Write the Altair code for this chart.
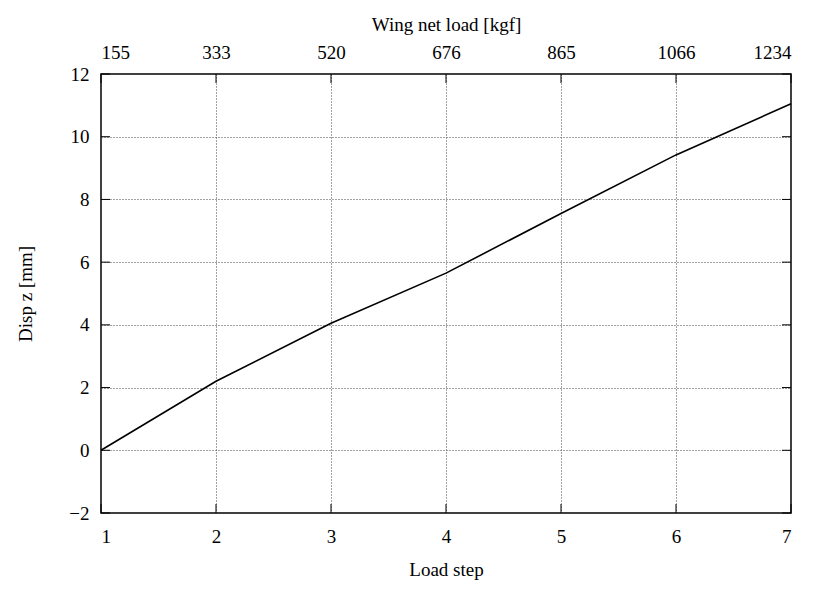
import altair as alt
import pandas as pd

# data
load_step = [1, 2, 3, 4, 5, 6, 7]
disp_z = [0.0, 2.2, 4.05, 5.65, 7.55, 9.42, 11.05]
wing_load_labels = ["155", "333", "520", "676", "865", "1066", "1234"]
y_ticks = [-2, 0, 2, 4, 6, 8, 10, 12]

W, H = 690, 439
FONT = "Liberation Serif"

df = pd.DataFrame({"step": load_step, "disp": disp_z})
ydf = pd.DataFrame({"v": y_ticks})
xdf = pd.DataFrame({"s": load_step})

xscale = alt.Scale(domain=[1, 7], nice=False, zero=False)
yscale = alt.Scale(domain=[-2, 12], nice=False, zero=False)

label_expr = "[" + ",".join("'%s'" % s for s in wing_load_labels) + "][datum.value - 1]"

line = alt.Chart(df).mark_line(color="black", strokeWidth=1.6).encode(
    x=alt.X("step:Q", scale=xscale,
            axis=alt.Axis(title="Load step", values=load_step, orient="bottom",
                          grid=True, format="d")),
    y=alt.Y("disp:Q", scale=yscale,
            axis=alt.Axis(title="Disp z [mm]", values=y_ticks, grid=True,
                          labelExpr="replace(format(datum.value, 'd'), '-', '\u2212')")),
)

top = alt.Chart(df).mark_line(opacity=0).encode(
    x=alt.X("step:Q", scale=xscale,
            axis=alt.Axis(title="Wing net load [kgf]", values=load_step, orient="top",
                          grid=False, labelExpr=label_expr)),
    y=alt.Y("disp:Q", scale=yscale, axis=None),
)

TL = 9
ytick_l = alt.Chart(ydf).mark_rule(color="black", strokeWidth=1).encode(
    y=alt.Y("v:Q", scale=yscale, axis=None), x=alt.value(0), x2=alt.value(TL))
ytick_r = alt.Chart(ydf).mark_rule(color="black", strokeWidth=1).encode(
    y=alt.Y("v:Q", scale=yscale, axis=None), x=alt.value(W - TL), x2=alt.value(W))
xtick_b = alt.Chart(xdf).mark_rule(color="black", strokeWidth=1).encode(
    x=alt.X("s:Q", scale=xscale, axis=None), y=alt.value(H - TL), y2=alt.value(H))
xtick_t = alt.Chart(xdf).mark_rule(color="black", strokeWidth=1).encode(
    x=alt.X("s:Q", scale=xscale, axis=None), y=alt.value(0), y2=alt.value(TL))

chart = alt.layer(line, top, ytick_l, ytick_r, xtick_b, xtick_t).resolve_axis(
    x="independent", y="independent"
).properties(
    width=W, height=H,
    background="white",
    autosize=alt.AutoSizeParams(type="none"),
    padding={"left": 101, "top": 74, "right": 27, "bottom": 76},
).configure_view(
    stroke="black", strokeWidth=1.5
).configure_axis(
    labelFont=FONT, titleFont=FONT, labelFontSize=19, titleFontSize=19,
    labelColor="black", titleColor="black", titleFontWeight="normal",
    domain=False, ticks=False, gridColor="#444", gridDash=[1, 2],
    gridWidth=1, gridOpacity=1, labelPadding=12,
).configure_axisLeft(
    titlePadding=33, labelPadding=12
).configure_axisBottom(
    titlePadding=14, labelPadding=14
).configure_axisTop(
    titlePadding=9, labelPadding=12
)

chart.save("out.html", embed_options={"renderer": "svg", "actions": False})
